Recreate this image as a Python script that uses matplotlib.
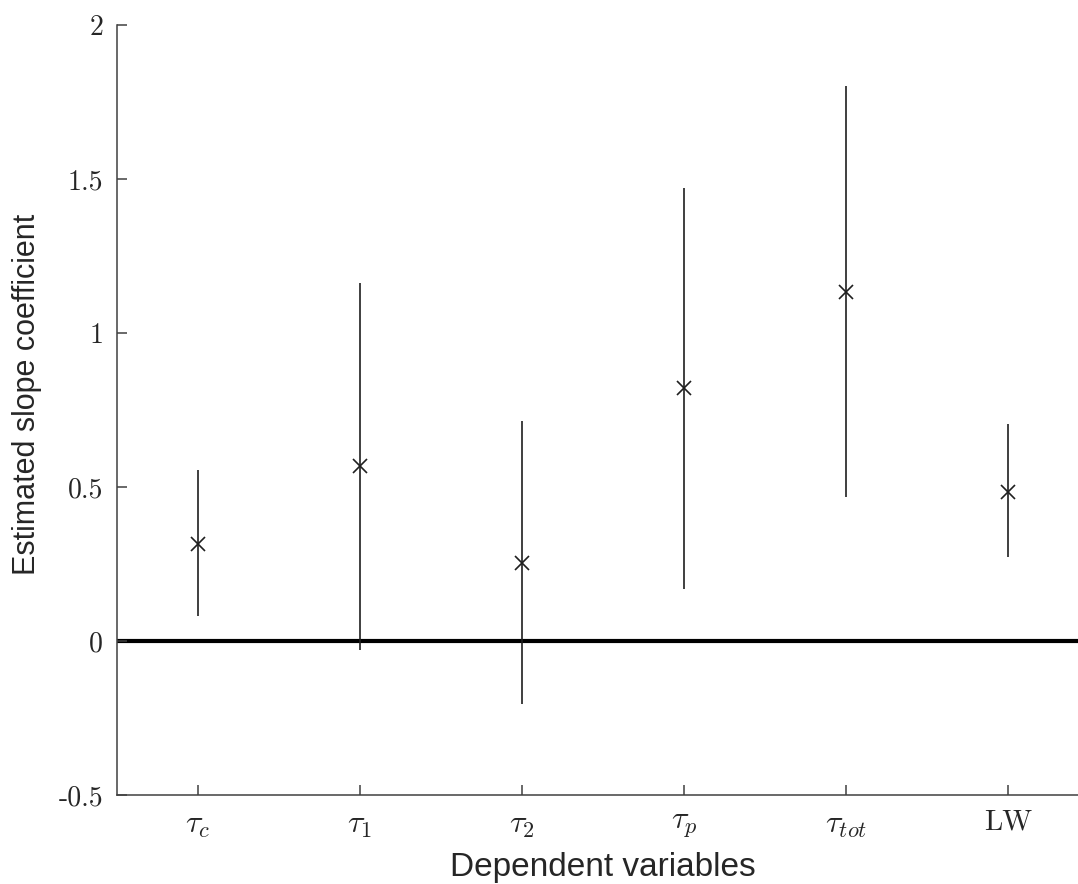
import matplotlib
matplotlib.use("Agg")
import matplotlib.pyplot as plt
import numpy as np

# estimated slope coefficients with their confidence intervals
labels = [r'$\tau_c$', r'$\tau_1$', r'$\tau_2$', r'$\tau_p$', r'$\tau_{tot}$', 'LW']
estimate = [0.315, 0.568, 0.254, 0.820, 1.134, 0.485]
ci_low = [0.081, -0.029, -0.205, 0.168, 0.468, 0.272]
ci_high = [0.555, 1.163, 0.714, 1.470, 1.802, 0.703]
yticks = [-0.5, 0, 0.5, 1, 1.5, 2]
ytick_labels = ['-0.5', '0', '0.5', '1', '1.5', '2']

plt.rcParams['mathtext.fontset'] = 'cm'
plt.rcParams['axes.unicode_minus'] = False

fig = plt.figure(figsize=(10.78, 8.84), dpi=100)
ax = fig.add_axes([117 / 1078, 89 / 884, 972 / 1078, 770 / 884])

x = np.arange(1, len(labels) + 1)
est = np.array(estimate)
err = [est - np.array(ci_low), np.array(ci_high) - est]

ax.axhline(0, color='black', lw=3, zorder=1)
ax.errorbar(x, est, yerr=err, fmt='x', color='#1f1f1f', ecolor='#1f1f1f',
            elinewidth=1.2, capsize=0, markersize=9.5, mew=1.2, zorder=3)

ax.set_xlim(0.5, 6.5)
ax.set_ylim(-0.5, 2)
ax.set_xticks(x)
ax.set_xticklabels(labels, fontsize=23)
for t in ax.get_xticklabels():
    if t.get_text() == 'LW':
        t.set_fontfamily('cmr10')
        t.set_fontsize(21)
ax.set_yticks(yticks)
ax.set_yticklabels(ytick_labels, fontsize=20, fontfamily='cmr10')

for s in ['top', 'right']:
    ax.spines[s].set_visible(False)
for s in ['left', 'bottom']:
    ax.spines[s].set_color('#404040')
    ax.spines[s].set_linewidth(1.1)
ax.tick_params(direction='in', length=7, width=1.1, color='#404040',
               labelcolor='#262626', pad=10)

ax.set_xlabel('Dependent variables', fontsize=24, fontfamily='Liberation Sans',
              color='#262626', labelpad=9)
ax.set_ylabel('Estimated slope coefficient', fontsize=22,
              fontfamily='Liberation Sans', color='#262626')
ax.yaxis.set_label_coords(-0.077, 0.52)

fig.savefig('out.png', dpi=100)
